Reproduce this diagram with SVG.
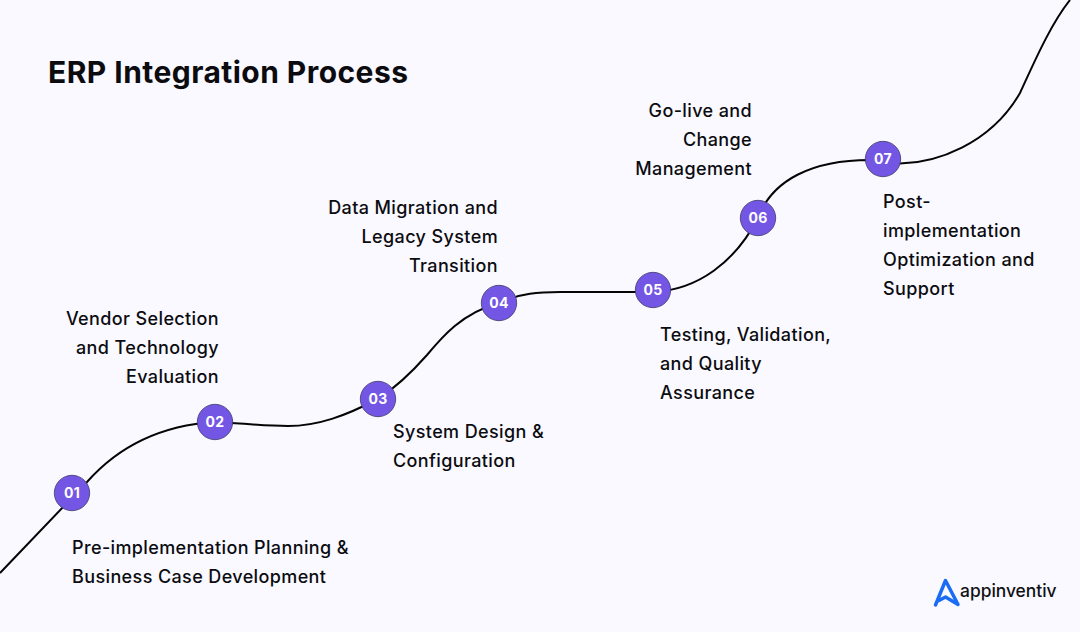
<svg xmlns="http://www.w3.org/2000/svg" width="1080" height="632" viewBox="0 0 1080 632">
<style>
.t{font-family:"Inter","Liberation Sans",sans-serif;font-size:18px;font-weight:500;fill:#0c0c10;letter-spacing:.38px}
.e{text-anchor:end}
.n{font-family:"Inter","Liberation Sans",sans-serif;font-size:14px;font-weight:700;fill:#fff;text-anchor:middle;letter-spacing:.3px}
.c{fill:#7456e4;stroke:#3f3a6a;stroke-width:.8}
</style>
<rect width="1080" height="632" fill="#f9f9ff"/>
<text x="48" y="83" font-family="Inter,'Liberation Sans',sans-serif" font-size="30" font-weight="700" fill="#0c0c10" letter-spacing=".45">ERP Integration Process</text>
<g id="connectors" fill="none" stroke="#050505" stroke-width="2">
<path d="M0 573L87 482C110 456 150 426 215 422C240 423 262 426 288 426C318 426 345 416 378 399C395 388 412 372 427 355C442 337 462 313 499 303C520 293 540 292 560 292L653 292C698 290 735 262 758 218C772 180 812 160 870 160L900 163.500C935 163 990 145 1020 93C1033 65 1050 25 1070 0"/>
</g>
<g id="node-01"><circle class="c" cx="72" cy="493" r="17.7"/><text class="n" x="72" y="498">01</text><text class="t" x="72" y="554">Pre-implementation Planning &amp;</text><text class="t" x="72" y="583">Business Case Development</text></g>
<g id="node-02"><circle class="c" cx="215" cy="422" r="17.7"/><text class="n" x="215" y="427">02</text><text class="t e" x="219" y="325">Vendor Selection</text><text class="t e" x="219" y="354">and Technology</text><text class="t e" x="219" y="383">Evaluation</text></g>
<g id="node-03"><circle class="c" cx="378" cy="399" r="17.7"/><text class="n" x="378" y="404">03</text><text class="t" x="393" y="438">System Design &amp;</text><text class="t" x="393" y="467">Configuration</text></g>
<g id="node-04"><circle class="c" cx="499" cy="303" r="17.7"/><text class="n" x="499" y="308">04</text><text class="t e" x="498" y="214">Data Migration and</text><text class="t e" x="498" y="243">Legacy System</text><text class="t e" x="498" y="272">Transition</text></g>
<g id="node-05"><circle class="c" cx="653" cy="290" r="17.7"/><text class="n" x="653" y="295">05</text><text class="t" x="660" y="341">Testing, Validation,</text><text class="t" x="660" y="370">and Quality</text><text class="t" x="660" y="399">Assurance</text></g>
<g id="node-06"><circle class="c" cx="758" cy="218" r="17.7"/><text class="n" x="758" y="223">06</text><text class="t e" x="752" y="117">Go-live and</text><text class="t e" x="752" y="146">Change</text><text class="t e" x="752" y="175">Management</text></g>
<g id="node-07"><circle class="c" cx="883" cy="159" r="17.7"/><text class="n" x="883" y="164">07</text><text class="t" x="883" y="208">Post-</text><text class="t" x="883" y="237">implementation</text><text class="t" x="883" y="266">Optimization and</text><text class="t" x="883" y="295">Support</text></g>
<g id="logo"><path d="M935.500 605L945.500 580.500L958 604.500L945.500 597L939 600.500" fill="none" stroke="#1a6cf5" stroke-width="3.500" stroke-linejoin="round" stroke-linecap="round"/><text x="960" y="597" font-family="Inter,'Liberation Sans',sans-serif" font-size="17.400" font-weight="500" fill="#111114">appinventiv</text></g>
</svg>
